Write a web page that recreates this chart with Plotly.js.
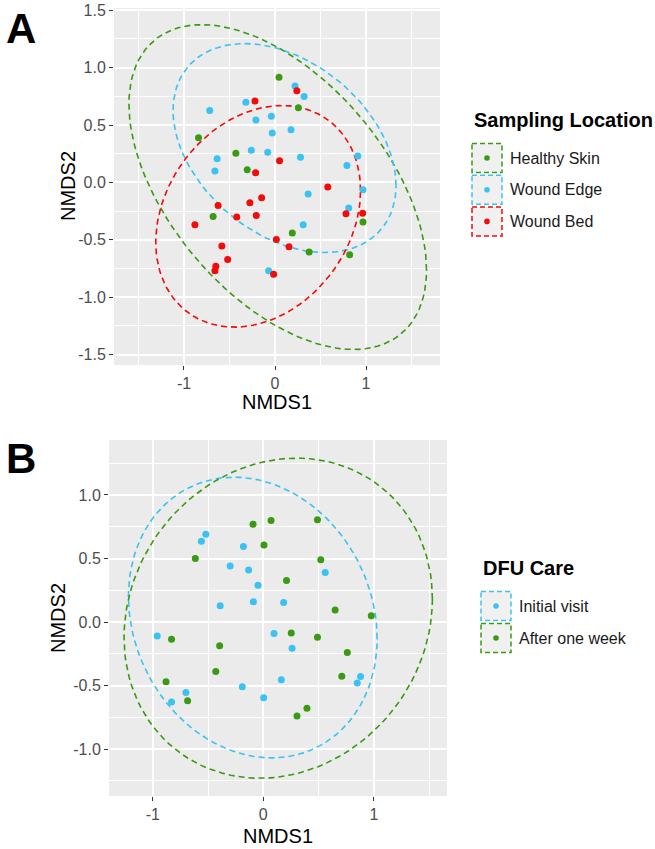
<!DOCTYPE html>
<html>
<head>
<meta charset="utf-8">
<script src="https://cdn.plot.ly/plotly-3.0.1.min.js"></script>
<style>
  body { margin: 0; background: #fff; }
  #chart { width: 655px; height: 849px; }
</style>
</head>
<body>
<div id="chart"></div>
<script>
// Panel A - Sampling Location (NMDS scores)
const healthyX = [-0.84, -0.43, -0.305, 0.044, 0.257, 0.967, 0.19, 0.375, 0.82, -0.68];
const healthyY = [0.39, 0.255, 0.11, 0.916, 0.65, -0.345, -0.44, -0.606, -0.63, -0.296];

const edgeX = [-0.717, -0.32, -0.21, -0.26, -0.636, -0.66, 0.22, 0.32, -0.04, -0.03,
               0.176, -0.08, 0.28, 0.91, 0.79, 0.364, 0.967, 0.81, 0.31, -0.07];
const edgeY = [0.626, 0.70, 0.545, 0.28, 0.206, 0.10, 0.84, 0.75, 0.577, 0.432,
               0.46, 0.264, 0.22, 0.23, 0.148, -0.10, -0.064, -0.223, -0.368, -0.77];

const bedX = [-0.22, -0.213, 0.24, 0.05, 0.58, -0.147, -0.276, -0.206, 0.78, 0.963,
              0.015, 0.154, -0.015, -0.625, -0.88, -0.42, -0.584, -0.52, -0.65, -0.66];
const bedY = [0.71, 0.084, 0.80, 0.19, -0.04, -0.133, -0.177, -0.287, -0.272, -0.267,
              -0.496, -0.56, -0.80, -0.2, -0.368, -0.30, -0.554, -0.67, -0.73, -0.77];

// Panel B - DFU Care
const initialX = [-0.52, -0.56, -0.18, -0.30, -0.133, -0.048, -0.39, -0.09, -0.96, 0.56,
                  0.184, 0.097, -0.19, -0.70, -0.83, 0.26, 0.163, 0.88, 0.85, 0.003];
const initialY = [0.69, 0.635, 0.594, 0.44, 0.41, 0.29, 0.127, 0.16, -0.11, 0.39,
                  0.154, -0.09, -0.51, -0.555, -0.63, -0.206, -0.455, -0.43, -0.48, -0.596];

const weekX = [-0.093, -0.615, -0.83, 0.07, 0.49, 0.006, 0.52, 0.21, 0.65, 0.977,
               0.253, 0.49, -0.395, -0.43, -0.88, -0.685, 0.76, 0.71, 0.395, 0.305];
const weekY = [0.77, 0.50, -0.135, 0.80, 0.805, 0.607, 0.49, 0.326, 0.094, 0.05,
               -0.086, -0.12, -0.1875, -0.39, -0.47, -0.62, -0.24, -0.427, -0.68, -0.74];

// 95% ellipses: centre, half width, half height, correlation
const ellA = ['Healthy Skin', 'Wound Edge', 'Wound Bed'];
const ellACx = [0.03, 0.105, -0.185];
const ellACy = [-0.04, 0.30, -0.295];
const ellAW = [1.635, 1.225, 1.125];
const ellAH = [1.415, 0.91, 0.965];
const ellAR = [-0.51, -0.36, 0.233];

const ellB = ['Initial visit', 'After one week'];
const ellBCx = [-0.095, 0.135];
const ellBCy = [0.035, 0.03];
const ellBW = [1.125, 1.395];
const ellBH = [1.105, 1.26];
const ellBR = [-0.15, 0.12];

const green = '#3a9a12';
const blue = '#3ac3f2';
const red = '#f50a0a';
const colA = [green, blue, red];
const colB = [blue, green];

const font = 'Liberation Sans, Arial, sans-serif';
const W = 655, H = 849;
const px = v => v / W;
const py = v => 1 - v / H;

// outline of an ellipse given centre, spread and correlation
function ellipse(cx, cy, w, h, r) {
    const xs = [], ys = [];
    const s = Math.sqrt(1 - r * r);
    for (let i = 0; i <= 120; i++) {
        const t = 2 * Math.PI * i / 120;
        xs.push(cx + w * Math.cos(t));
        ys.push(cy + h * (r * Math.cos(t) + s * Math.sin(t)));
    }
    return { xs, ys };
}

const traces = [];

ellA.forEach((name, i) => {
    const e = ellipse(ellACx[i], ellACy[i], ellAW[i], ellAH[i], ellAR[i]);
    traces.push({
        x: e.xs, y: e.ys, xaxis: 'x', yaxis: 'y', mode: 'lines',
        line: { color: colA[i], width: 1.6, dash: '6px,4px' },
        showlegend: false, hoverinfo: 'skip', name: name
    });
});
ellB.forEach((name, i) => {
    const e = ellipse(ellBCx[i], ellBCy[i], ellBW[i], ellBH[i], ellBR[i]);
    traces.push({
        x: e.xs, y: e.ys, xaxis: 'x2', yaxis: 'y2', mode: 'lines',
        line: { color: colB[i], width: 1.6, dash: '6px,4px' },
        showlegend: false, hoverinfo: 'skip', name: name
    });
});

const ptsA = [[healthyX, healthyY], [edgeX, edgeY], [bedX, bedY]];
ptsA.forEach((p, i) => {
    traces.push({
        x: p[0], y: p[1], xaxis: 'x', yaxis: 'y', mode: 'markers', type: 'scatter',
        marker: { color: colA[i], size: 7 }, name: ellA[i], showlegend: false
    });
});
const ptsB = [[initialX, initialY], [weekX, weekY]];
ptsB.forEach((p, i) => {
    traces.push({
        x: p[0], y: p[1], xaxis: 'x2', yaxis: 'y2', mode: 'markers', type: 'scatter',
        marker: { color: colB[i], size: 7 }, name: ellB[i], showlegend: false
    });
});

function axis(domain, range, vals, text, minor, anchor) {
    return {
        domain: domain, range: range, anchor: anchor,
        tickmode: 'array', tickvals: vals, ticktext: text,
        ticks: 'outside', ticklen: 4, tickwidth: 1, tickcolor: '#333333',
        tickfont: { family: font, size: 16, color: '#4d4d4d' },
        showgrid: true, gridcolor: '#ffffff', gridwidth: 2,
        zeroline: false, showline: false, fixedrange: true,
        minor: { tickmode: 'array', tickvals: minor, showgrid: true, gridcolor: '#ffffff', gridwidth: 1, ticks: '' }
    };
}

// legends drawn by hand: dashed key boxes with a dot
const shapes = [];
const annotations = [];

function legend(title, names, cols, x0, titleY, top0, step) {
    annotations.push({
        xref: 'paper', yref: 'paper', x: px(x0), y: py(titleY), xanchor: 'left', yanchor: 'middle',
        text: '<b>' + title + '</b>', showarrow: false, font: { family: font, size: 20, color: '#000' }
    });
    names.forEach((n, i) => {
        const top = top0 + i * step;
        const cy = top + 14.5;
        shapes.push({
            type: 'rect', xref: 'paper', yref: 'paper',
            x0: px(x0), x1: px(x0 + 30), y0: py(top), y1: py(top + 29),
            fillcolor: '#f0f0f0', line: { color: cols[i], width: 1.5, dash: '5px,3px' }
        });
        shapes.push({
            type: 'circle', xref: 'paper', yref: 'paper',
            x0: px(x0 + 12.2), x1: px(x0 + 17.8), y0: py(cy - 2.8), y1: py(cy + 2.8),
            fillcolor: cols[i], line: { width: 0 }
        });
        annotations.push({
            xref: 'paper', yref: 'paper', x: px(x0 + 36), y: py(cy), xanchor: 'left', yanchor: 'middle',
            text: n, showarrow: false, font: { family: font, size: 16, color: '#1a1a1a' }
        });
    });
}
legend('Sampling Location', ellA, colA, 472, 120, 143.5, 31.7);
legend('DFU Care', ellB, colB, 481, 568, 591.5, 32);

const titleFont = { family: font, size: 20, color: '#000' };
annotations.push(
    { xref: 'paper', yref: 'paper', x: px(277), y: py(402), text: 'NMDS1', showarrow: false, font: titleFont, xanchor: 'center', yanchor: 'middle' },
    { xref: 'paper', yref: 'paper', x: px(68), y: py(186), text: 'NMDS2', showarrow: false, font: titleFont, textangle: -90, xanchor: 'center', yanchor: 'middle' },
    { xref: 'paper', yref: 'paper', x: px(278), y: py(836), text: 'NMDS1', showarrow: false, font: titleFont, xanchor: 'center', yanchor: 'middle' },
    { xref: 'paper', yref: 'paper', x: px(58), y: py(618), text: 'NMDS2', showarrow: false, font: titleFont, textangle: -90, xanchor: 'center', yanchor: 'middle' },
    { xref: 'paper', yref: 'paper', x: px(21), y: py(3), text: '<b>A</b>', showarrow: false, font: { family: font, size: 42, color: '#000' }, xanchor: 'center', yanchor: 'top' },
    { xref: 'paper', yref: 'paper', x: px(21), y: py(433), text: '<b>B</b>', showarrow: false, font: { family: font, size: 42, color: '#000' }, xanchor: 'center', yanchor: 'top' }
);

const layout = {
    width: W, height: H,
    margin: { l: 0, r: 0, t: 0, b: 0 },
    paper_bgcolor: '#ffffff', plot_bgcolor: '#ebebeb',
    showlegend: false,
    font: { family: font },
    xaxis: axis([px(114), px(440)], [-1.769, 1.813], [-1, 0, 1], ['-1', '0', '1'], [-1.5, -0.5, 0.5, 1.5], 'y'),
    yaxis: axis([py(365), py(8)], [-1.59, 1.52], [-1.5, -1, -0.5, 0, 0.5, 1, 1.5],
        ['-1.5', '-1.0', '-0.5', '0.0', '0.5', '1.0', '1.5'], [-1.25, -0.75, -0.25, 0.25, 0.75, 1.25], 'x'),
    xaxis2: axis([px(109), px(447)], [-1.396, 1.662], [-1, 0, 1], ['-1', '0', '1'], [-0.5, 0.5, 1.5], 'y2'),
    yaxis2: axis([py(796), py(440)], [-1.370, 1.433], [-1, -0.5, 0, 0.5, 1],
        ['-1.0', '-0.5', '0.0', '0.5', '1.0'], [-1.25, -0.75, -0.25, 0.25, 0.75, 1.25], 'x2'),
    shapes: shapes,
    annotations: annotations
};

Plotly.newPlot('chart', traces, layout, { displayModeBar: false, staticPlot: true });
</script>
</body>
</html>
